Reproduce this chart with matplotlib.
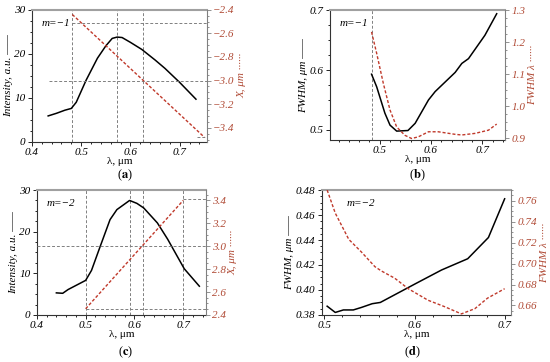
import matplotlib
matplotlib.use("Agg")
import matplotlib.pyplot as plt
from matplotlib.ticker import AutoMinorLocator, MultipleLocator

plt.rcParams['font.family'] = ['Liberation Serif', 'DejaVu Serif']
plt.rcParams['mathtext.fontset'] = 'stix'

RED = '#c0392b'
RLAB = '#b04a35'
GREY = '#808080'

# Panel (a) m=-1
a_wl = [0.433, 0.45, 0.467, 0.48, 0.49, 0.51, 0.533, 0.55, 0.563, 0.573, 0.583, 0.6, 0.623, 0.65, 0.67, 0.7, 0.733]
a_int = [5.9, 6.5, 7.2, 7.6, 9.0, 14.0, 19.0, 21.8, 23.5, 23.8, 23.7, 22.6, 21.0, 18.6, 16.7, 13.5, 9.7]
a_x_wl = [0.482, 0.75]
a_x = [-2.44, -3.48]

# Panel (b) m=-1
b_wl = [0.484, 0.494, 0.510, 0.520, 0.533, 0.555, 0.569, 0.595, 0.608, 0.647, 0.660, 0.673, 0.705, 0.728]
b_fwhm = [0.593, 0.572, 0.528, 0.508, 0.498, 0.499, 0.511, 0.550, 0.564, 0.596, 0.611, 0.619, 0.658, 0.694]
b_wl2 = [0.484, 0.494, 0.507, 0.520, 0.533, 0.549, 0.562, 0.575, 0.595, 0.614, 0.647, 0.660, 0.686, 0.712, 0.728]
b_fwhm_l = [1.232, 1.165, 1.071, 0.988, 0.935, 0.909, 0.899, 0.904, 0.920, 0.920, 0.912, 0.910, 0.915, 0.925, 0.944]

# Panel (c) m=-2
c_wl = [0.440, 0.453, 0.464, 0.500, 0.512, 0.529, 0.550, 0.564, 0.590, 0.605, 0.619, 0.647, 0.668, 0.702, 0.733]
c_int = [5.3, 5.2, 6.1, 8.3, 10.7, 16.2, 22.9, 25.3, 27.5, 26.8, 25.7, 22.1, 18.2, 11.1, 6.9]
c_x_wl = [0.5, 0.7]
c_x = [2.454, 3.4]

# Panel (d) m=-2
d_wl = [0.503, 0.512, 0.521, 0.532, 0.541, 0.553, 0.562, 0.575, 0.601, 0.630, 0.659, 0.682, 0.700]
d_fwhm = [0.387, 0.382, 0.384, 0.384, 0.386, 0.389, 0.390, 0.395, 0.405, 0.416, 0.425, 0.442, 0.473]
d_wl2 = [0.503, 0.512, 0.527, 0.541, 0.556, 0.563, 0.578, 0.593, 0.615, 0.633, 0.652, 0.667, 0.681, 0.700]
d_fwhm_l = [0.770, 0.748, 0.723, 0.711, 0.697, 0.693, 0.686, 0.676, 0.665, 0.659, 0.652, 0.657, 0.667, 0.676]

fig = plt.figure(figsize=(5.5, 3.62), dpi=100)

def setup(ax, ax2, xlim, ylim, y2lim, xmaj, ymaj, y2maj, yfmt, y2fmt):
    ax.set_xlim(*xlim)
    ax.set_ylim(*ylim)
    ax2.set_ylim(*y2lim)
    ax.xaxis.set_major_locator(MultipleLocator(xmaj))
    ax.yaxis.set_major_locator(MultipleLocator(ymaj))
    ax2.yaxis.set_major_locator(MultipleLocator(y2maj))
    for a in (ax, ax2):
        a.xaxis.set_minor_locator(AutoMinorLocator(5))
        a.yaxis.set_minor_locator(AutoMinorLocator(4))
    ax.tick_params(which='both', direction='out', labelsize=8, pad=1.5, width=0.6)
    ax.tick_params(which='major', length=3)
    ax.tick_params(which='minor', length=1.5)
    ax2.tick_params(which='both', direction='out', labelsize=8, pad=1.5, width=0.6, colors=GREY, labelcolor=RLAB)
    ax2.tick_params(which='major', length=3)
    ax2.tick_params(which='minor', length=1.5)
    ax.xaxis.set_major_formatter(plt.FuncFormatter(lambda v, p: f"{v:.1f}"))
    ax.yaxis.set_major_formatter(plt.FuncFormatter(lambda v, p: yfmt(v)))
    ax2.yaxis.set_major_formatter(plt.FuncFormatter(lambda v, p: y2fmt(v).replace('-', '\u2212')))
    ax.spines['top'].set_color('#a0a0a0')
    ax.spines['top'].set_linewidth(1.5)
    ax2.spines['top'].set_visible(False)
    ax2.spines['right'].set_color(GREY)
    ax.spines['right'].set_visible(False)
    ax2.spines['left'].set_visible(False)
    ax2.spines['bottom'].set_visible(False)
    ax.spines['left'].set_color('#333333')
    ax.spines['bottom'].set_color('#333333')

def italic_fix(ax, ax2):
    for lab in ax.get_xticklabels() + ax.get_yticklabels() + ax2.get_yticklabels():
        lab.set_style('italic')

dash = (0, (2.2, 1.4))
ref = dict(color=GREY, lw=0.7, ls=(0, (3, 2)))

# ---------- (a)
ax = fig.add_axes([0.058, 0.608, 0.318, 0.365])
ax2 = ax.twinx()
setup(ax, ax2, (0.4, 0.755), (0, 30), (-3.52, -2.4), 0.1, 10, 0.2,
      lambda v: f"{v:.0f}", lambda v: f"{v:.1f}")
ax.plot(a_wl, a_int, color='black', lw=1.1, zorder=3)
ax2.plot(a_x_wl, a_x, color=RED, lw=1.0, ls=dash, zorder=3)
for xv in (0.482, 0.573, 0.625):
    ax.axvline(xv, **ref)
ax2.plot([0.482, 0.755], [-2.51, -2.51], **ref)
ax2.plot([0.435, 0.755], [-3.0, -3.0], **ref)
ax2.plot([0.735, 0.755], [-3.48, -3.48], **ref)
ax2.set_ylim(-3.52, -2.4)
ax.text(0.055, 0.93, 'm=\u22121', transform=ax.transAxes, fontsize=8, style='italic', va='top')
ax.set_ylabel('Intensity, a.u. \u2014\u2014', fontsize=8, style='italic', labelpad=1)
ax2.set_ylabel('X, \u03bcm \u00b7\u00b7\u00b7\u00b7\u00b7\u00b7', fontsize=8, style='italic', color=RLAB, labelpad=2)
ax.set_xlabel('\u03bb, \u03bcm', fontsize=8, labelpad=0)
italic_fix(ax, ax2)
fig.text(0.228, 0.515, r'($\mathbf{a}$)', fontsize=9, ha='center', va='center')

# ---------- (b)
ax = fig.add_axes([0.600, 0.613, 0.318, 0.359])
ax2 = ax.twinx()
setup(ax, ax2, (0.403, 0.744), (0.483, 0.7), (0.894, 1.3), 0.1, 0.1, 0.1,
      lambda v: f"{v:.1f}", lambda v: f"{v:.1f}")
ax.plot(b_wl, b_fwhm, color='black', lw=1.1, zorder=3)
ax2.plot(b_wl2, b_fwhm_l, color=RED, lw=1.0, ls=dash, zorder=3)
ax.axvline(0.484, **ref)
ax.text(0.055, 0.93, 'm=\u22121', transform=ax.transAxes, fontsize=8, style='italic', va='top')
ax.set_ylabel('FWHM, \u03bcm \u2014\u2014', fontsize=8, style='italic', labelpad=1)
ax2.set_ylabel('FWHM \u03bb \u00b7\u00b7\u00b7\u00b7\u00b7\u00b7', fontsize=8, style='italic', color=RLAB, labelpad=2)
ax.set_xlabel('\u03bb, \u03bcm', fontsize=8, labelpad=0)
italic_fix(ax, ax2)
fig.text(0.758, 0.515, r'($\mathbf{b}$)', fontsize=9, ha='center', va='center')

# ---------- (c)
ax = fig.add_axes([0.067, 0.130, 0.307, 0.345])
ax2 = ax.twinx()
setup(ax, ax2, (0.4, 0.746), (0, 30), (2.4, 3.49), 0.1, 10, 0.2,
      lambda v: f"{v:.0f}", lambda v: f"{v:.1f}")
ax.plot(c_wl, c_int, color='black', lw=1.1, zorder=3)
ax2.plot(c_x_wl, c_x, color=RED, lw=1.0, ls=dash, zorder=3)
for xv in (0.5, 0.59, 0.618, 0.7):
    ax.axvline(xv, **ref)
ax2.plot([0.4, 0.746], [3.0, 3.0], **ref)
ax2.plot([0.5, 0.746], [2.454, 2.454], **ref)
ax2.plot([0.7, 0.746], [3.41, 3.41], **ref)
ax2.set_ylim(2.4, 3.49)
ax.set_xlim(0.4, 0.746)
ax.text(0.06, 0.93, 'm=\u22122', transform=ax.transAxes, fontsize=8, style='italic', va='top')
ax.set_ylabel('Intensity, a.u. \u2014\u2014', fontsize=8, style='italic', labelpad=1)
ax2.set_ylabel('X, \u03bcm \u00b7\u00b7\u00b7\u00b7\u00b7\u00b7', fontsize=8, style='italic', color=RLAB, labelpad=2)
ax.set_xlabel('\u03bb, \u03bcm', fontsize=8, labelpad=0)
italic_fix(ax, ax2)
fig.text(0.228, 0.026, r'($\mathbf{c}$)', fontsize=9, ha='center', va='center')

# ---------- (d)
ax = fig.add_axes([0.585, 0.130, 0.344, 0.345])
ax2 = ax.twinx()
setup(ax, ax2, (0.497, 0.707), (0.38, 0.48), (0.651, 0.77), 0.1, 0.02, 0.02,
      lambda v: f"{v:.2f}", lambda v: f"{v:.2f}")
ax.plot(d_wl, d_fwhm, color='black', lw=1.1, zorder=3)
ax2.plot(d_wl2, d_fwhm_l, color=RED, lw=1.0, ls=dash, zorder=3)
ax.text(0.13, 0.93, 'm=\u22122', transform=ax.transAxes, fontsize=8, style='italic', va='top')
ax.set_ylabel('FWHM, \u03bcm \u2014\u2014', fontsize=8, style='italic', labelpad=1)
ax2.set_ylabel('FWHM \u03bb \u00b7\u00b7\u00b7\u00b7\u00b7\u00b7', fontsize=8, style='italic', color=RLAB, labelpad=2)
ax.set_xlabel('\u03bb, \u03bcm', fontsize=8, labelpad=0)
italic_fix(ax, ax2)
fig.text(0.749, 0.026, r'($\mathbf{d}$)', fontsize=9, ha='center', va='center')

fig.savefig('out.png', dpi=100)
